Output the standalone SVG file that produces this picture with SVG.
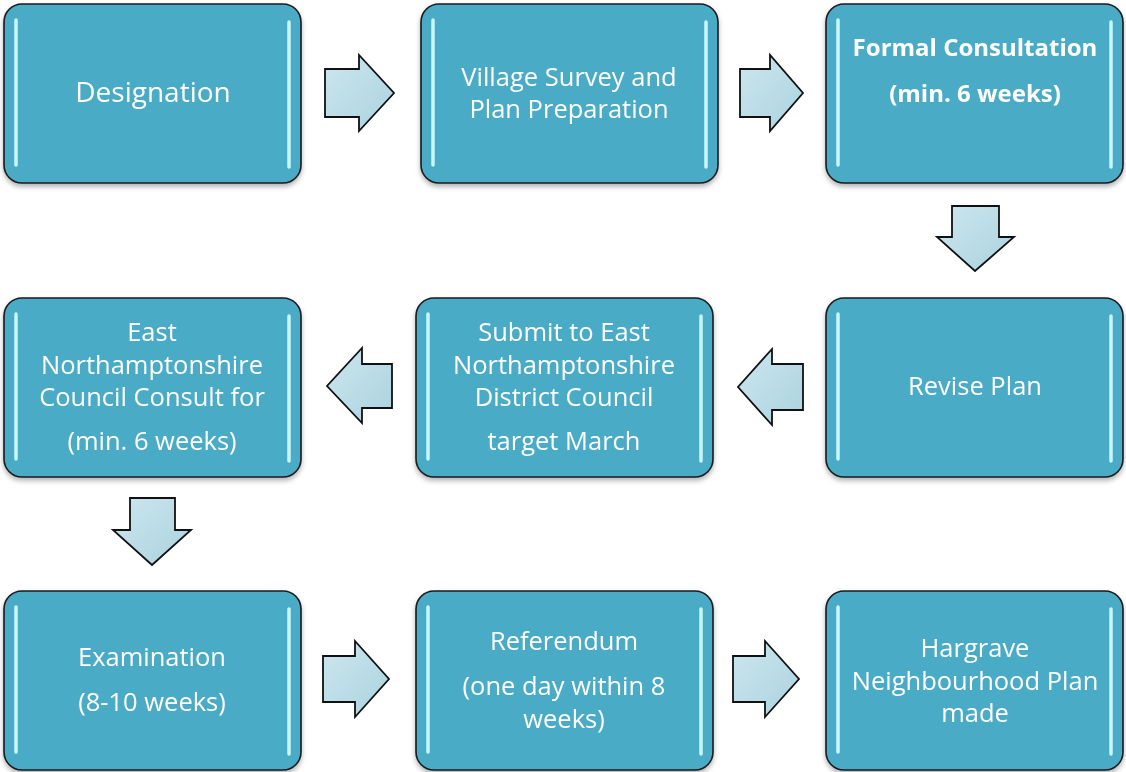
<svg xmlns="http://www.w3.org/2000/svg" width="1126" height="772" viewBox="0 0 1126 772">
<defs>
<style>
.box{fill:#4aabc6;stroke:#1a1a1a;stroke-width:1.6}
.shine{stroke:#c8f6ff;stroke-width:3.5;stroke-linecap:round}
.t{font-family:"Open Sans","Noto Sans","Liberation Sans",sans-serif;font-size:25.5px;fill:#ffffff;text-anchor:middle}
.b{font-weight:bold;font-size:24px}
.arr{fill:url(#ag);stroke:#111;stroke-width:1.8;stroke-linejoin:miter}
</style>
<linearGradient id="ag" x1="0" y1="0" x2="1" y2="1">
<stop offset="0" stop-color="#cde6ee"/>
<stop offset="1" stop-color="#aad3df"/>
</linearGradient>
<filter id="sh" x="-5%" y="-5%" width="110%" height="115%">
<feDropShadow dx="0" dy="3" stdDeviation="2.5" flood-color="#000" flood-opacity="0.3"/>
</filter>
</defs>
<rect width="1126" height="772" fill="#ffffff"/>

<g id="connectors">
<path class="arr" d="M325,69 H359 V55 L394,93 L359,131 V117 H325 Z"/>
<path class="arr" d="M740,69 H770 V55 L803,93 L770,131 V117 H740 Z"/>
<path class="arr" d="M952,206 H999 V237 H1014 L975,271 L937,237 H952 Z"/>
<path class="arr" d="M803,364 H772 V349 L738,387 L772,425 V410 H803 Z"/>
<path class="arr" d="M392,364 H362 V348 L327,386 L362,423 V408 H392 Z"/>
<path class="arr" d="M130,498 H175 V530 H191 L152,565 L113,530 H130 Z"/>
<path class="arr" d="M323,656 H355 V641 L389,679 L355,717 V702 H323 Z"/>
<path class="arr" d="M733,656 H765 V641 L799,679 L765,717 V702 H733 Z"/>
</g>

<g id="n1" filter="url(#sh)">
<rect class="box" x="4" y="4" width="297" height="179" rx="18"/>
<line class="shine" x1="16" y1="20" x2="16" y2="165"/><line class="shine" x1="289" y1="22" x2="289" y2="167"/>
<text class="t" x="153" y="102" style="font-size:28px">Designation</text>
</g>
<g id="n2" filter="url(#sh)">
<rect class="box" x="421" y="4" width="297" height="179" rx="18"/>
<line class="shine" x1="433" y1="20" x2="433" y2="165"/><line class="shine" x1="706" y1="22" x2="706" y2="167"/>
<text class="t" x="569" y="86">Village Survey and</text>
<text class="t" x="569" y="118">Plan Preparation</text>
</g>
<g id="n3" filter="url(#sh)">
<rect class="box" x="826" y="4" width="297" height="179" rx="18"/>
<line class="shine" x1="838" y1="20" x2="838" y2="165"/><line class="shine" x1="1111" y1="22" x2="1111" y2="167"/>
<text class="t b" x="975" y="56">Formal Consultation</text>
<text class="t b" x="975" y="102">(min. 6 weeks)</text>
</g>
<g id="n4" filter="url(#sh)">
<rect class="box" x="4" y="298" width="297" height="179" rx="18"/>
<line class="shine" x1="16" y1="314" x2="16" y2="459"/><line class="shine" x1="289" y1="316" x2="289" y2="461"/>
<text class="t" x="152" y="341">East</text>
<text class="t" x="152" y="374">Northamptonshire</text>
<text class="t" x="152" y="406">Council Consult for</text>
<text class="t" x="152" y="450">(min. 6 weeks)</text>
</g>
<g id="n5" filter="url(#sh)">
<rect class="box" x="416" y="298" width="297" height="179" rx="18"/>
<line class="shine" x1="428" y1="314" x2="428" y2="459"/><line class="shine" x1="701" y1="316" x2="701" y2="461"/>
<text class="t" x="564" y="341">Submit to East</text>
<text class="t" x="564" y="374">Northamptonshire</text>
<text class="t" x="564" y="406">District Council</text>
<text class="t" x="564" y="450">target March</text>
</g>
<g id="n6" filter="url(#sh)">
<rect class="box" x="826" y="298" width="297" height="179" rx="18"/>
<line class="shine" x1="838" y1="314" x2="838" y2="459"/><line class="shine" x1="1111" y1="316" x2="1111" y2="461"/>
<text class="t" x="975" y="395">Revise Plan</text>
</g>
<g id="n7" filter="url(#sh)">
<rect class="box" x="4" y="591" width="297" height="179" rx="18"/>
<line class="shine" x1="16" y1="607" x2="16" y2="752"/><line class="shine" x1="289" y1="609" x2="289" y2="754"/>
<text class="t" x="152" y="666">Examination</text>
<text class="t" x="152" y="711">(8-10 weeks)</text>
</g>
<g id="n8" filter="url(#sh)">
<rect class="box" x="416" y="591" width="297" height="179" rx="18"/>
<line class="shine" x1="428" y1="607" x2="428" y2="752"/><line class="shine" x1="701" y1="609" x2="701" y2="754"/>
<text class="t" x="564" y="650">Referendum</text>
<text class="t" x="564" y="695">(one day within 8</text>
<text class="t" x="564" y="728">weeks)</text>
</g>
<g id="n9" filter="url(#sh)">
<rect class="box" x="826" y="591" width="297" height="179" rx="18"/>
<line class="shine" x1="838" y1="607" x2="838" y2="752"/><line class="shine" x1="1111" y1="609" x2="1111" y2="754"/>
<text class="t" x="975" y="657">Hargrave</text>
<text class="t" x="975" y="690">Neighbourhood Plan</text>
<text class="t" x="975" y="722">made</text>
</g>
</svg>
